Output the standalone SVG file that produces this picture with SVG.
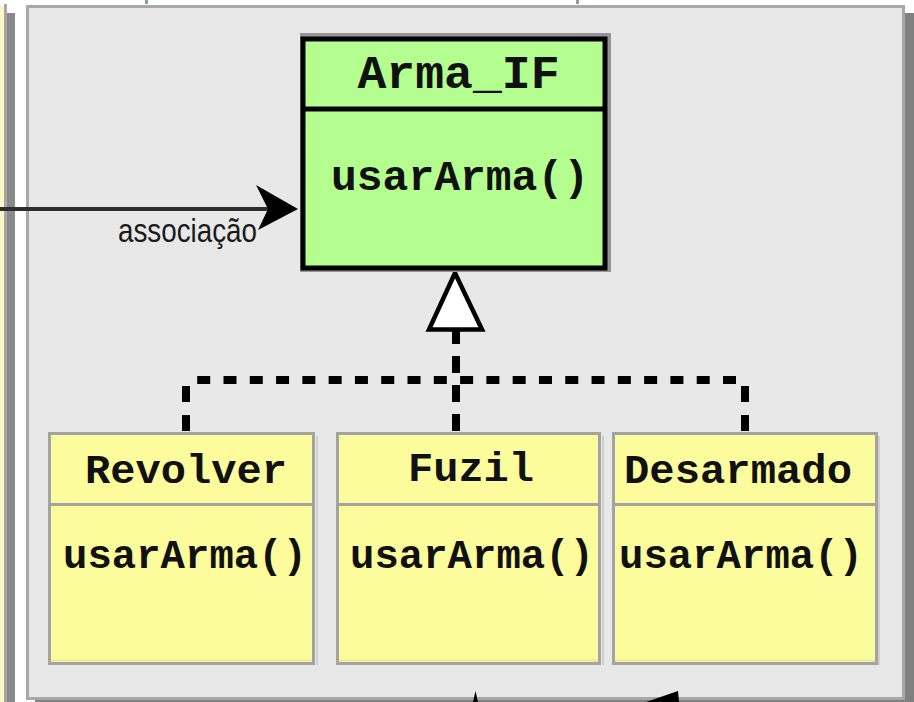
<svg xmlns="http://www.w3.org/2000/svg" width="914" height="702" viewBox="0 0 914 702">
  <style>
    .mono { font-family: "Liberation Mono", "DejaVu Sans Mono", monospace; font-weight: bold; fill: #111; }
    .cls { fill: #fdfc9d; stroke: #a3a3a3; stroke-width: 3; }
    .sep { stroke: #a3a3a3; stroke-width: 3; }
    .dash { fill: none; stroke: #000; stroke-width: 8; }
  </style>

  <!-- neighbouring frame edge on the left -->
  <rect x="0" y="6" width="4" height="696" fill="#fbf8c6"/>
  <rect x="4" y="4" width="3" height="698" fill="#a6a6a6"/>
  <rect x="7" y="13" width="8" height="689" fill="#8a8a8a"/>

  <!-- container panel with drop shadow -->
  <rect x="35" y="13" width="879" height="689" fill="#808080"/>
  <rect x="27.5" y="6.5" width="876" height="692" fill="#e8e8e8" stroke="#a8a8a8" stroke-width="3"/>

  <!-- connector stubs entering from outside -->
  <rect x="145" y="0" width="3" height="4" fill="#8c9ab0"/>
  <rect x="576" y="0" width="3" height="4" fill="#8c9ab0"/>

  <g id="connectors">
    <!-- association into the interface -->
    <line x1="0" y1="209" x2="270" y2="209" stroke="#2e2e2e" stroke-width="4"/>
    <path d="M256,185 L298,209 L258,230 L268,209 Z" fill="#000"/>
    <text x="118" y="242" font-family="'Liberation Sans', Arial, sans-serif" font-size="33" fill="#1a1a1a" textLength="139" lengthAdjust="spacingAndGlyphs">associação</text>

    <!-- realization: dotted tree up to the hollow triangle -->
    <path class="dash" d="M197.2,380 H742" stroke-dasharray="13 13.29"/>
    <path class="dash" d="M186,431 V376" stroke-width="7" stroke-dasharray="16 13"/>
    <path class="dash" d="M745,431 V376" stroke-width="7" stroke-dasharray="16 13"/>
    <path class="dash" d="M456,431 V331" stroke-width="7" stroke-dasharray="17 12"/>
    <polygon points="455,273 429,329.5 482,329.5" fill="#fff" stroke="#000" stroke-width="4.5" stroke-linejoin="miter"/>

    <!-- partial connectors at the bottom edge -->
    <polygon points="473,702 475.5,691 478,702" fill="#000"/>
    <polygon points="646,702 678,691 679,702" fill="#000"/>
  </g>

  <g id="arma-if">
    <rect x="300" y="33" width="311" height="239" fill="#959595"/>
    <rect x="303" y="39" width="302" height="229" fill="#b4fe90" stroke="#000" stroke-width="5"/>
    <line x1="303" y1="109" x2="605" y2="109" stroke="#000" stroke-width="5"/>
    <text class="mono" x="458.5" y="88" font-size="47" text-anchor="middle" textLength="202" lengthAdjust="spacingAndGlyphs">Arma_IF</text>
    <text class="mono" x="460" y="190" font-size="43" text-anchor="middle" textLength="258" lengthAdjust="spacingAndGlyphs">usarArma()</text>
  </g>

  <g id="revolver">
    <rect x="316" y="436" width="2" height="229" fill="#cfcfcf"/>
    <rect class="cls" x="49.5" y="433.5" width="264" height="230"/>
    <line x1="51" y1="660.5" x2="312" y2="660.5" stroke="#ebe690" stroke-width="2"/>
    <line class="sep" x1="49.5" y1="504.5" x2="313.5" y2="504.5"/>
    <text class="mono" x="186" y="483" font-size="41" text-anchor="middle" textLength="202" lengthAdjust="spacingAndGlyphs">Revolver</text>
    <text class="mono" x="185" y="568" font-size="41" text-anchor="middle" textLength="244" lengthAdjust="spacingAndGlyphs">usarArma()</text>
  </g>

  <g id="fuzil">
    <rect x="602" y="436" width="2" height="229" fill="#cfcfcf"/>
    <rect class="cls" x="337.5" y="433.5" width="262" height="230"/>
    <line x1="339" y1="660.5" x2="598" y2="660.5" stroke="#ebe690" stroke-width="2"/>
    <line class="sep" x1="337.5" y1="504.5" x2="599.5" y2="504.5"/>
    <text class="mono" x="471" y="481" font-size="41" text-anchor="middle" textLength="126" lengthAdjust="spacingAndGlyphs">Fuzil</text>
    <text class="mono" x="472" y="568" font-size="41" text-anchor="middle" textLength="244" lengthAdjust="spacingAndGlyphs">usarArma()</text>
  </g>

  <g id="desarmado">
    <rect x="878" y="436" width="2" height="229" fill="#cfcfcf"/>
    <rect class="cls" x="613.5" y="433.5" width="263" height="230"/>
    <line x1="615" y1="660.5" x2="875" y2="660.5" stroke="#ebe690" stroke-width="2"/>
    <line class="sep" x1="613.5" y1="504.5" x2="876.5" y2="504.5"/>
    <text class="mono" x="738" y="483" font-size="41" text-anchor="middle" textLength="228" lengthAdjust="spacingAndGlyphs">Desarmado</text>
    <text class="mono" x="741" y="568" font-size="41" text-anchor="middle" textLength="244" lengthAdjust="spacingAndGlyphs">usarArma()</text>
  </g>
</svg>
